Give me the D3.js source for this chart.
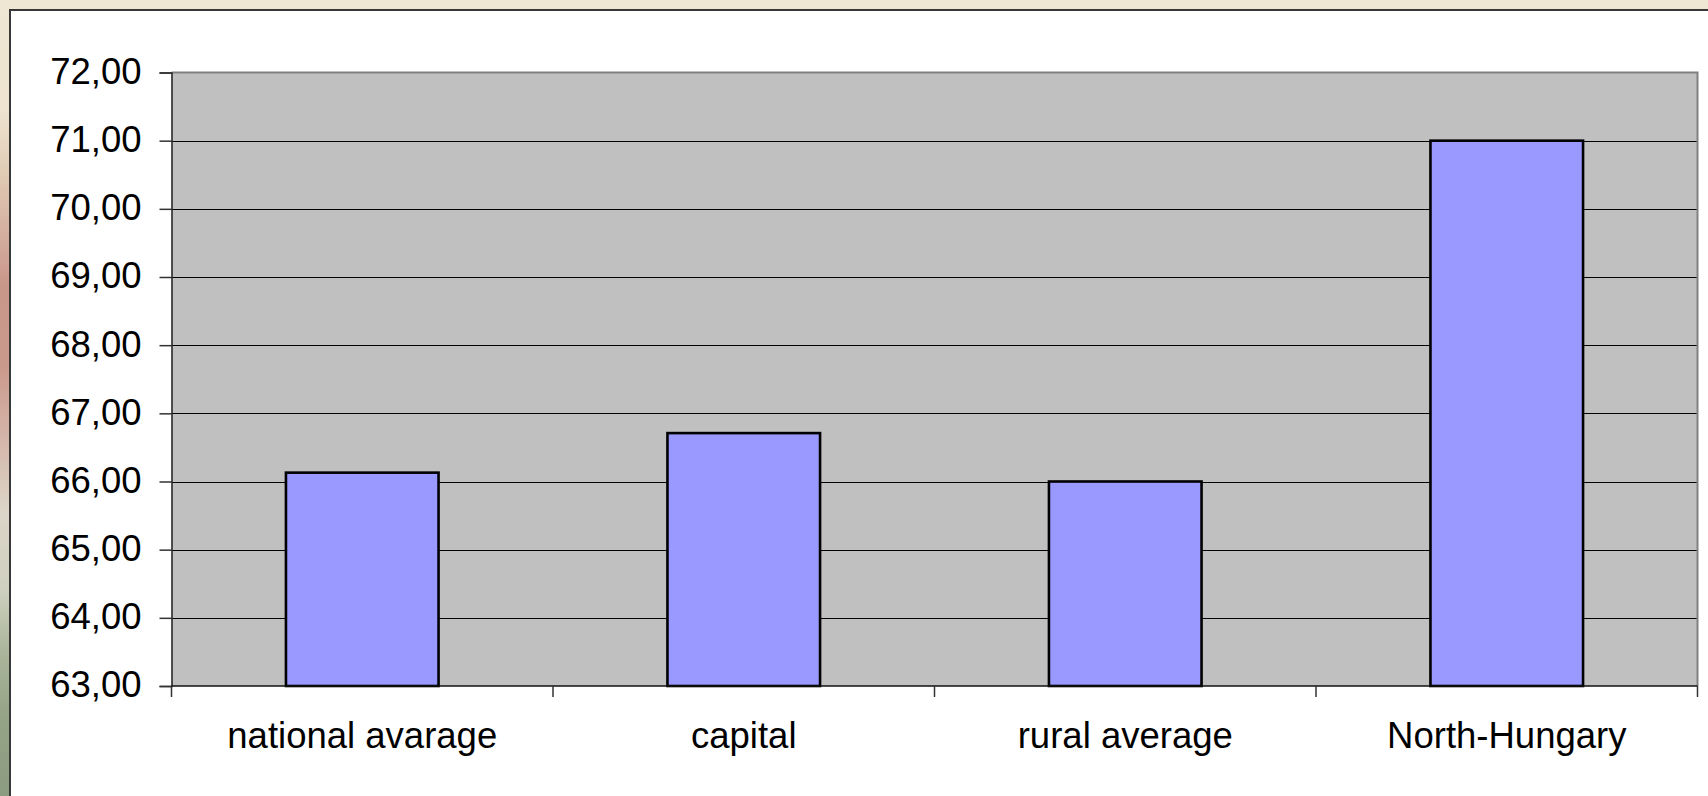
<!DOCTYPE html>
<html>
<head>
<meta charset="utf-8">
<script src="https://cdn.jsdelivr.net/npm/d3@7"></script>
<style>
  html, body { margin: 0; padding: 0; overflow: hidden; }
  svg { display: block; }
  text { font-family: "Liberation Sans", Arial, sans-serif; fill: #000; }
</style>
</head>
<body>
<svg id="chart" width="1708" height="796"></svg>
<script>
// Chart data
const categories = ["national avarage", "capital", "rural average", "North-Hungary"];
const values = [66.13, 66.71, 66.00, 71.00];
const yTicks = [63, 64, 65, 66, 67, 68, 69, 70, 71, 72];

const W = 1708, H = 796;
const plot = { left: 171.5, right: 1697.5, top: 72.5, bottom: 686 };

const svg = d3.select("#chart");

// Slide-style backdrop with a soft vertical colour band on the left edge
const defs = svg.append("defs");
const grad = defs.append("linearGradient")
  .attr("id", "bg").attr("x1", 0).attr("y1", 0).attr("x2", 0).attr("y2", 1);
[
  [0.00, "#efe7d3"], [0.14, "#ede3cf"], [0.22, "#e0cab4"], [0.29, "#d4b0a0"],
  [0.36, "#c9968a"], [0.46, "#c99a8c"], [0.56, "#d6b8ac"], [0.64, "#dcd4c8"],
  [0.74, "#cfd0c0"], [0.82, "#aab59a"], [0.90, "#95a386"], [1.00, "#8c9c80"]
].forEach(([o, c]) => grad.append("stop").attr("offset", o).attr("stop-color", c));

svg.append("rect").attr("width", W).attr("height", H).attr("fill", "url(#bg)");

// White chart panel
svg.append("rect")
  .attr("x", 10).attr("y", 10).attr("width", W + 20).attr("height", H + 20)
  .attr("fill", "#ffffff").attr("stroke", "#383838").attr("stroke-width", 2);

// Scales
const x = d3.scaleBand()
  .domain(categories)
  .range([plot.left, plot.right])
  .paddingInner(0.6)
  .paddingOuter(0.3);

const y = d3.scaleLinear()
  .domain([63, 72])
  .range([plot.bottom, plot.top]);

const locale = d3.formatLocale({ decimal: ",", thousands: ".", grouping: [3], currency: ["", ""] });
const fmt = locale.format(".2f");

// Plot area
svg.append("rect")
  .attr("x", plot.left).attr("y", plot.top)
  .attr("width", plot.right - plot.left).attr("height", plot.bottom - plot.top)
  .attr("fill", "#c0c0c0");

// Horizontal gridlines
svg.append("g")
  .selectAll("line")
  .data(yTicks.filter(t => t > 63 && t < 72))
  .join("line")
  .attr("x1", plot.left).attr("x2", plot.right)
  .attr("y1", d => Math.round(y(d)) + 0.5).attr("y2", d => Math.round(y(d)) + 0.5)
  .attr("stroke", "#000").attr("stroke-width", 1.2);

// Top and right border of the plot area
svg.append("path")
  .attr("d", `M${plot.left},${plot.top}H${plot.right}V${plot.bottom}`)
  .attr("fill", "none").attr("stroke", "#808080").attr("stroke-width", 2);

// Bars
svg.append("g")
  .selectAll("rect")
  .data(values)
  .join("rect")
  .attr("x", (d, i) => x(categories[i]))
  .attr("y", d => y(d))
  .attr("width", x.bandwidth())
  .attr("height", d => y(63) - y(d))
  .attr("fill", "#9999ff")
  .attr("stroke", "#000")
  .attr("stroke-width", 2.6);

// Y axis
const yAxis = d3.axisLeft(y)
  .tickValues(yTicks)
  .tickFormat(fmt)
  .tickSize(12)
  .tickPadding(18);

const gy = svg.append("g")
  .attr("transform", `translate(${plot.left},0)`)
  .call(yAxis);
gy.select(".domain").attr("stroke", "#222").attr("stroke-width", 1.5);
gy.selectAll(".tick line").attr("stroke", "#333").attr("stroke-width", 1.5);
gy.selectAll(".tick text")
  .attr("font-size", "36.5px")
  .attr("font-family", "'Liberation Sans', Arial, sans-serif")
  .attr("fill", "#000")
  .attr("dy", "0.30em");

// X axis: category boundary ticks below the axis line
const step = x.step();
const boundaries = d3.range(categories.length + 1).map(i => plot.left + i * step);

svg.append("line")
  .attr("x1", plot.left).attr("x2", plot.right)
  .attr("y1", plot.bottom).attr("y2", plot.bottom)
  .attr("stroke", "#111").attr("stroke-width", 1.5);

svg.append("g")
  .selectAll("line")
  .data(boundaries)
  .join("line")
  .attr("x1", d => d).attr("x2", d => d)
  .attr("y1", plot.bottom).attr("y2", plot.bottom + 11)
  .attr("stroke", "#333").attr("stroke-width", 1.5);

svg.append("g")
  .selectAll("text")
  .data(categories)
  .join("text")
  .attr("x", d => x(d) + x.bandwidth() / 2)
  .attr("y", 748)
  .attr("text-anchor", "middle")
  .attr("font-size", "36.5px")
  .text(d => d);
</script>
</body>
</html>
